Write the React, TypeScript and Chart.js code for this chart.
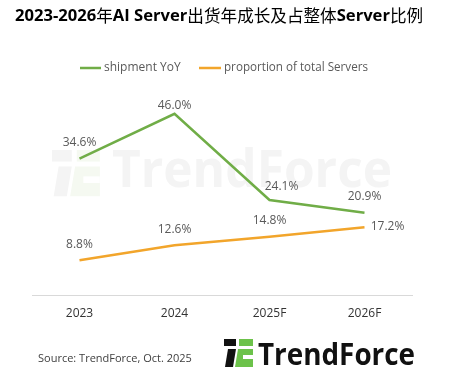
import React, { useEffect, useRef } from "react";
import { Chart, registerables } from "chart.js";

Chart.register(...registerables);

const categories = ["2023", "2024", "2025F", "2026F"];
const shipmentYoY = [34.6, 46.0, 24.1, 20.9];
const proportionOfTotal = [8.8, 12.6, 14.8, 17.2];
const seriesNames = ["shipment YoY", "proportion of total Servers"];
const titleParts: [string, boolean][] = [
  ["2023-2026", true],
  ["年", false],
  ["AI Server", true],
  ["出货年成长及占整体", false],
  ["Server", true],
  ["比例", false],
];
const sourceText = "Source: TrendForce, Oct. 2025";
const brandName = "TrendForce";

const GREEN = "#70ad47";
const ORANGE = "#f2a52b";
const LATIN = "'Open Sans', 'Noto Sans', sans-serif";
const CJK = "'Noto Sans CJK SC', sans-serif";

// per-point label offsets [dx, dy] relative to the point
const labelOffsets = [
  [[0, -16], [0, -8], [12, -13], [0, -16]],
  [[0, -16], [0, -16], [0, -16], [23, -1]],
];

function drawIcon(ctx: CanvasRenderingContext2D, x: number, y: number, s: number, dark: string, green: string) {
  ctx.save();
  ctx.translate(x, y);
  ctx.scale(s, s);
  ctx.fillStyle = dark;
  ctx.fillRect(0, 0, 12, 7);
  ctx.beginPath();
  ctx.moveTo(4, 10);
  ctx.lineTo(12, 10);
  ctx.lineTo(9, 28);
  ctx.lineTo(1, 28);
  ctx.closePath();
  ctx.fill();
  ctx.fillStyle = green;
  ctx.fillRect(15, 0, 14, 7);
  ctx.beginPath();
  ctx.moveTo(14, 10);
  ctx.lineTo(29, 10);
  ctx.lineTo(29, 28);
  ctx.lineTo(11, 28);
  ctx.closePath();
  ctx.fill();
  ctx.fillStyle = "#ffffff";
  ctx.fillRect(19, 16, 10, 4);
  ctx.restore();
}

const decorPlugin = {
  id: "decor",
  beforeDatasetsDraw(chart: any) {
    const ctx: CanvasRenderingContext2D = chart.ctx;
    ctx.save();
    // watermark
    drawIcon(ctx, 52, 150, 1.65, "#f4f4f4", "#f5f9f1");
    ctx.fillStyle = "#f4f4f4";
    ctx.font = `bold 52px ${LATIN}`;
    ctx.textBaseline = "middle";
    ctx.textAlign = "left";
    ctx.fillText(brandName, 112, 172, 280);
    ctx.restore();
  },
  afterDatasetsDraw(chart: any) {
    const ctx: CanvasRenderingContext2D = chart.ctx;
    ctx.save();
    // data labels
    ctx.font = `12px ${LATIN}`;
    ctx.fillStyle = "#595959";
    ctx.textAlign = "center";
    ctx.textBaseline = "middle";
    chart.data.datasets.forEach((ds: any, di: number) => {
      const meta = chart.getDatasetMeta(di);
      meta.data.forEach((pt: any, i: number) => {
        const [dx, dy] = labelOffsets[di][i];
        ctx.fillText(ds.data[i].toFixed(1) + "%", pt.x + dx, pt.y + dy);
      });
    });

    // title
    let x = 15;
    ctx.textAlign = "left";
    ctx.fillStyle = "#000000";
    titleParts.forEach(([t, latin]) => {
      ctx.font = latin ? `bold 16.6px ${LATIN}` : `16.6px ${CJK}`;
      ctx.fillText(t, x, 16);
      x += ctx.measureText(t).width;
    });

    // legend
    ctx.font = `12px ${LATIN}`;
    ctx.fillStyle = "#595959";
    ctx.lineWidth = 2.5;
    ctx.strokeStyle = GREEN;
    ctx.beginPath();
    ctx.moveTo(80, 68);
    ctx.lineTo(101, 68);
    ctx.stroke();
    ctx.fillText(seriesNames[0], 104, 68);
    ctx.strokeStyle = ORANGE;
    ctx.beginPath();
    ctx.moveTo(199, 68);
    ctx.lineTo(221, 68);
    ctx.stroke();
    ctx.fillText(seriesNames[1], 224, 68, 144);

    // source
    ctx.font = `11px ${LATIN}`;
    ctx.fillStyle = "#404040";
    ctx.fillText(sourceText, 38, 359);

    // logo
    drawIcon(ctx, 224, 339, 1, "#111111", "#6cc24a");
    ctx.fillStyle = "#111111";
    ctx.font = `bold 30px ${LATIN}`;
    ctx.fillText(brandName, 258, 356, 157);
    ctx.restore();
  },
};

export default function App() {
  const ref = useRef<HTMLCanvasElement | null>(null);
  useEffect(() => {
    if (!ref.current) return;
    const chart = new Chart(ref.current, {
      type: "line",
      data: {
        labels: categories,
        datasets: [
          {
            label: seriesNames[0],
            data: shipmentYoY,
            borderColor: GREEN,
            backgroundColor: GREEN,
            borderWidth: 2.5,
            pointRadius: 0,
            tension: 0,
          },
          {
            label: seriesNames[1],
            data: proportionOfTotal,
            borderColor: ORANGE,
            backgroundColor: ORANGE,
            borderWidth: 2.5,
            pointRadius: 0,
            tension: 0,
          },
        ],
      },
      options: {
        responsive: false,
        animation: false,
        devicePixelRatio: 1,
        layout: { padding: { left: 32, right: 39, top: 98, bottom: 0 } },
        plugins: { legend: { display: false }, title: { display: false }, tooltip: { enabled: false } },
        scales: {
          x: {
            offset: true,
            grid: { display: false, drawTicks: false },
            border: { display: true, color: "#d9d9d9", width: 1 },
            ticks: { color: "#333333", font: { size: 12, family: LATIN }, padding: 11 },
            afterFit: (s: any) => {
              s.height = 84;
            },
          },
          y: { display: false, min: 0, max: 50 },
        },
      },
      plugins: [decorPlugin],
    });
    return () => chart.destroy();
  }, []);
  return (
    <div style={{ position: "fixed", left: 0, top: 0, width: 451, height: 379, background: "#fff" }}>
      <canvas ref={ref} width={451} height={379} style={{ display: "block" }} />
    </div>
  );
}
